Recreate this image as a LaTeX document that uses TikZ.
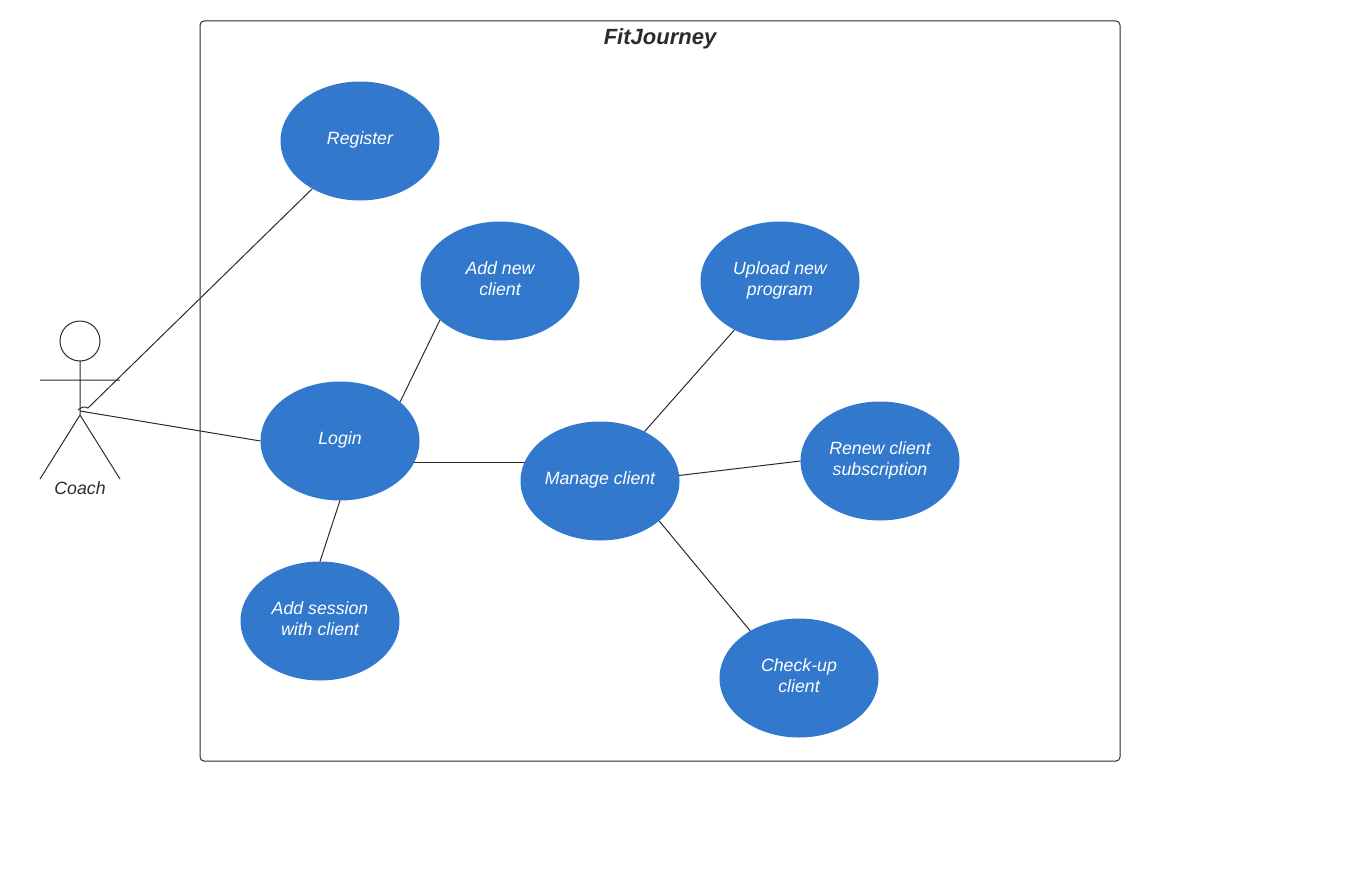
\documentclass[tikz,border=0pt]{standalone}
\usepackage{fontspec}
\setmainfont{Liberation Sans}
\usetikzlibrary{positioning,shapes.geometric}
\definecolor{ucBlue}{HTML}{3278CD}
\definecolor{inkGrey}{HTML}{2B2B2B}
\begin{document}
\begin{tikzpicture}[x=0.75pt,y=-0.75pt,
  uc/.style={ellipse, fill=ucBlue, text=white, inner sep=0pt, outer sep=0pt, minimum width=119.25pt, minimum height=89.25pt, align=center, font=\fontsize{13.3}{15.75}\selectfont\itshape, execute at end node={\rule[-3.7pt]{0pt}{1pt}}},
  link/.style={draw=inkGrey, line width=0.75pt}]
\useasboundingbox (0,0) rectangle (1359,881);
% system boundary
\node[draw=inkGrey, line width=0.75pt, rounded corners=3pt, inner sep=0pt, outer sep=0pt, minimum width=690pt, minimum height=555pt] (sys) at (660,391) {};
\node[text=inkGrey, font=\fontsize{16.5}{20}\selectfont\bfseries\itshape] (title) at (660,39) {FitJourney};
% use cases
\node[uc] (register) at (360,141) {Register};
\node[uc] (addnew) at (500,281) {Add new\\client};
\node[uc] (login) at (340,441) {Login};
\node[uc] (session) at (320,621) {Add session\\with client};
\node[uc] (manage) at (600,481) {Manage client};
\node[uc] (upload) at (780,281) {Upload new\\program};
\node[uc] (renew) at (880,461) {Renew client\\subscription};
\node[uc] (checkup) at (799,678) {Check-up\\client};
% actor
\node[draw=inkGrey, circle, line width=0.75pt, inner sep=0pt, outer sep=0pt, minimum size=30pt] (head) at (80,341) {};
\coordinate (armL) at (40,380); \coordinate (armR) at (120,380);
\coordinate (hip) at (80,415); \coordinate (footL) at (40,479); \coordinate (footR) at (120,479);
\coordinate (waist) at (80,411); \coordinate (hook) at (88,408); \coordinate (hookEnd) at (78,410);
\node[text=inkGrey, font=\fontsize{13.3}{15.75}\selectfont\itshape] (coach) at (80,488) {Coach};
\draw[link] (head.south)--(hip) (armL)--(armR) (footL)--(hip)--(footR);
% connectors
\draw[link] (register.225)--(hook) .. controls (84,406) and (82,407) .. (hookEnd);
\draw[link] (waist)--(login.west);
\draw[link] (login.33)--(addnew.213);
\draw[link] (login.-16)--(login.-16-|manage.166);
\draw[link] (login.south)--(session.north);
\draw[link] (manage.48)--(upload.227);
\draw[link] (manage.4)--(renew.west);
\draw[link] (manage.-34)--(checkup.136);
\end{tikzpicture}
\end{document}
